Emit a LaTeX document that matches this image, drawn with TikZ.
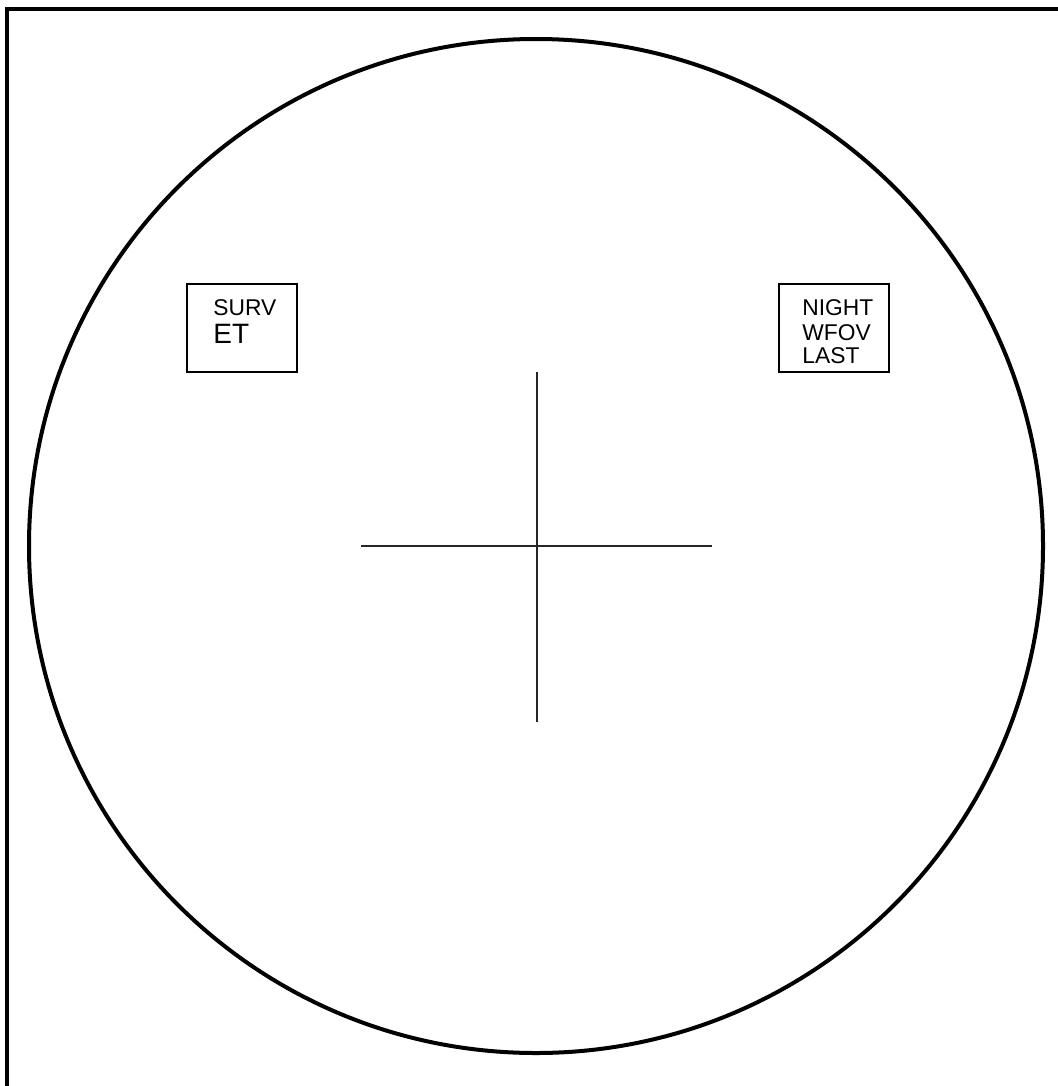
\documentclass[tikz,border=0pt]{standalone}
\usepackage{fontspec}
\setmainfont{Liberation Sans}
\usetikzlibrary{positioning}

\begin{document}
\begin{tikzpicture}[
    x=0.5pt, y=-0.5pt,
    frame/.style={line width=2.2pt, black},
    fov/.style={line width=2pt, black},
    reticle/.style={line width=1.1pt, black!85},
    panel/.style={draw, line width=1pt, minimum width=55pt, minimum height=44pt, inner sep=0pt},
    small/.style={inner sep=0pt, anchor=base west, font=\fontsize{11.4}{12}\selectfont},
    big/.style={inner sep=0pt, anchor=base west, font=\fontsize{14}{14}\selectfont}
]
    \useasboundingbox (0,0) rectangle (1058,1086);

    % Frame (top and left edge only)
    \coordinate (corner) at (7,9);
    \coordinate (topend) at (1058,9);
    \coordinate (leftend) at (7,1086);
    \draw[frame] (topend) -- (corner) -- (leftend);

    % Field of view
    \coordinate (centre) at (536,546);
    \draw[fov] (centre) circle [radius=507];

    % Crosshair
    \coordinate (hleft) at (361,546);
    \coordinate (hright) at (712,546);
    \coordinate (vtop) at (537,372);
    \coordinate (vbottom) at (537,722);
    \draw[reticle] (hleft) -- (hright);
    \draw[reticle] (vtop) -- (vbottom);

    % Mode boxes
    \node[panel] (modebox) at (242,328) {};
    \node[small] (surv) at (213,315) {SURV};
    \node[big] (et) at (213,343) {ET};

    \node[panel] (sensorbox) at (834,327.5) {};
    \node[small] (night) at (802,315) {NIGHT};
    \node[small] (wfov) at (802,340) {WFOV};
    \node[small] (last) at (802,363) {LAST};
\end{tikzpicture}
\end{document}
